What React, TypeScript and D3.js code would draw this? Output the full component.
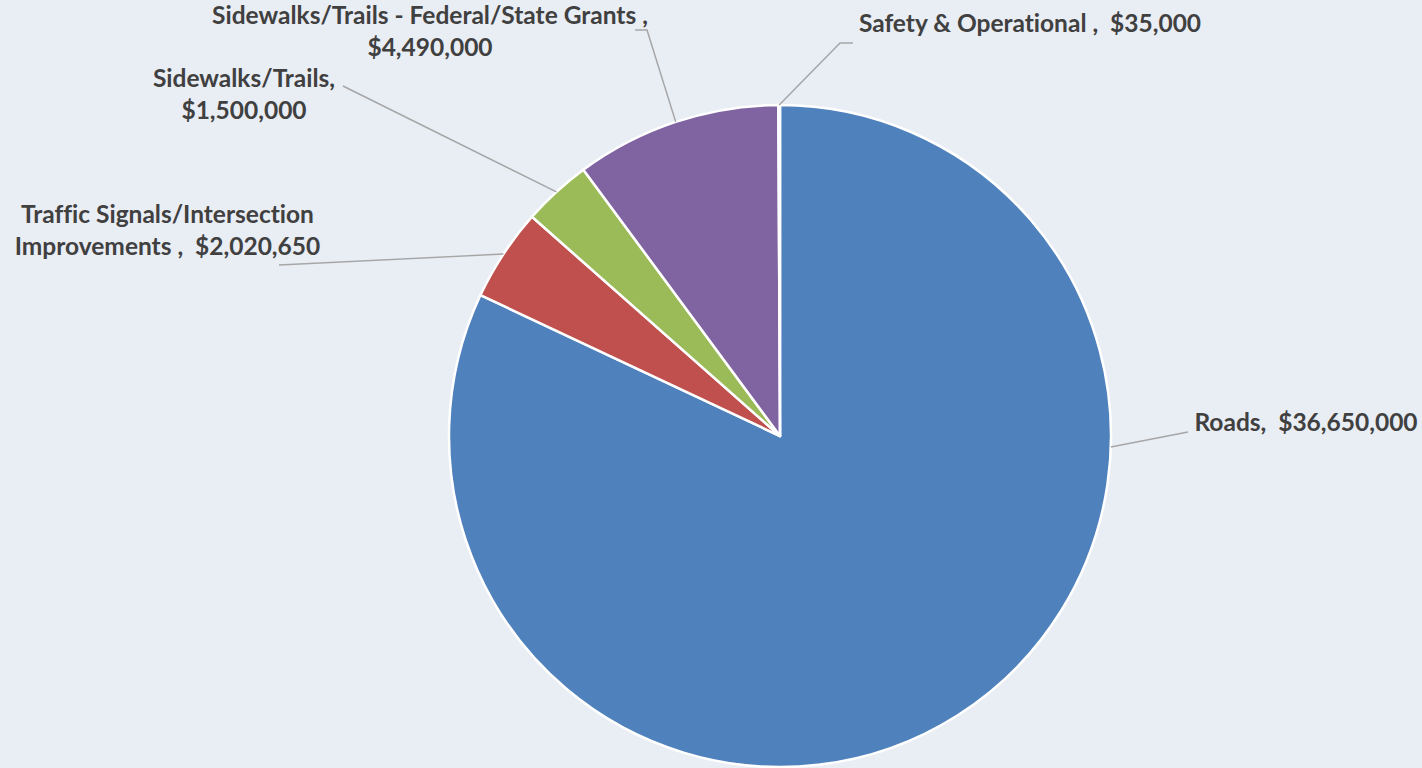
import React from "react";
import * as d3 from "d3";

const categories = [
  "Roads",
  "Traffic Signals/Intersection Improvements",
  "Sidewalks/Trails",
  "Sidewalks/Trails - Federal/State Grants",
  "Safety & Operational",
];
const values = [36650000, 2020650, 1500000, 4490000, 35000];
const labelLines = [
  ["Roads,  $36,650,000"],
  ["Traffic Signals/Intersection", "Improvements ,  $2,020,650"],
  ["Sidewalks/Trails,", "$1,500,000"],
  ["Sidewalks/Trails - Federal/State Grants ,", "$4,490,000"],
  ["Safety & Operational ,  $35,000"],
];
const colors = ["#4F81BD", "#C0504D", "#9BBB59", "#8064A2", "#4BACC6"];

// layout (positions only)
const W = 1422, H = 768;
const cx = 780, cy = 436, R = 331;
const labelLayout = [
  { x: 1306, y: 431, anchorDeg: 91.9, pts: [[1188, 432]] },
  { x: 167.5, y: 223, anchorDeg: null, pts: [[279, 265]] },
  { x: 244, y: 87, anchorDeg: null, pts: [[343, 86]] },
  { x: 430, y: 24, anchorDeg: null, pts: [[647, 30], [635, 30]] },
  { x: 1030, y: 32, anchorDeg: null, pts: [[840, 43], [853, 43]] },
];

export default function App() {
  const pie = d3.pie<number>().sort(null).value((d) => d).startAngle(0).endAngle(2 * Math.PI);
  const arcs = pie(values);
  const arc = d3.arc<d3.PieArcDatum<number>>().innerRadius(0).outerRadius(R);
  const lineGen = d3.line();
  const font = "Lato, 'Open Sans', sans-serif";

  return (
    <div style={{ position: "absolute", left: 0, top: 0 }}>
      <svg width={W} height={H} style={{ display: "block" }}>
        <rect x={0} y={0} width={W} height={H} fill="#E9EDF4" />
        <g transform={`translate(${cx},${cy})`}>
          {arcs.map((a, i) => (
            <path key={i} d={arc(a) || ""} fill={colors[i]} stroke="#FFFFFF" strokeWidth={2.5} strokeLinejoin="round" />
          ))}
        </g>
        {arcs.map((a, i) => {
          const L = labelLayout[i];
          const ang = L.anchorDeg != null ? (L.anchorDeg * Math.PI) / 180 : (a.startAngle + a.endAngle) / 2;
          const sx = cx + R * Math.sin(ang);
          const sy = cy - R * Math.cos(ang);
          const pts: [number, number][] = [[sx, sy], ...(L.pts as [number, number][])];
          return <path key={i} d={lineGen(pts) || ""} fill="none" stroke="#A6A6A6" strokeWidth={1.5} />;
        })}
        {labelLines.map((lines, i) => (
          <text key={i} fontFamily={font} fontWeight={700} fontSize={24.5} fill="#404040" textAnchor="middle"
            style={{ fontVariantLigatures: "none" }}>
            {lines.map((t, j) => (
              <tspan key={j} x={labelLayout[i].x} y={labelLayout[i].y + j * 32} style={{ whiteSpace: "pre" }}>
                {t}
              </tspan>
            ))}
          </text>
        ))}
      </svg>
    </div>
  );
}
